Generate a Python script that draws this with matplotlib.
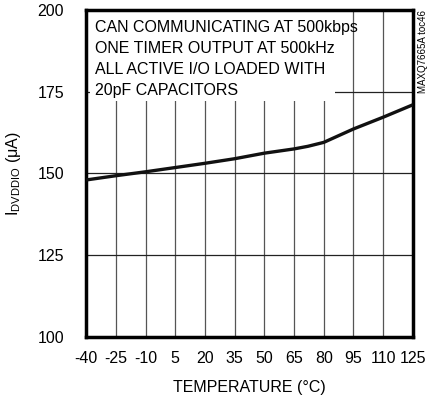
import matplotlib
matplotlib.use("Agg")
import matplotlib.pyplot as plt
from matplotlib.patches import Rectangle

plt.rcParams['font.family'] = ['Liberation Sans', 'DejaVu Sans']
plt.rcParams['mathtext.fontset'] = 'custom'
plt.rcParams['mathtext.rm'] = 'Liberation Sans'

# data
temp = [-40, -25, -10, 5, 20, 35, 50, 65, 72, 80, 95, 110, 125]
idvddio = [148.0, 149.3, 150.5, 151.8, 153.1, 154.5, 156.2, 157.5, 158.3, 159.5, 163.6, 167.2, 171.0]
xticks = [-40, -25, -10, 5, 20, 35, 50, 65, 80, 95, 110, 125]
xlabels = ['-40', '-25', '-10', '5', '20', '35', '50', '65', '80', '95', '110', '125']
yticks = [100, 125, 150, 175, 200]
note = ("CAN COMMUNICATING AT 500kbps\n"
        "ONE TIMER OUTPUT AT 500kHz\n"
        "ALL ACTIVE I/O LOADED WITH\n"
        "20pF CAPACITORS")

fig = plt.figure(figsize=(4.35, 4.01), dpi=100)
ax = fig.add_axes([0.198, 0.160, 0.751, 0.815])

for x in xticks[1:-1]:
    ax.axvline(x, color='#555555', lw=0.9, zorder=0.5)
for y in yticks[1:-1]:
    ax.axhline(y, color='#222222', lw=0.9, zorder=0.5)

# white box behind the note
ax.add_patch(Rectangle((-38, 172.2), 123.6, 30, facecolor='white', edgecolor='none', zorder=1))
ax.text(-35.5, 196.8, note, fontsize=11.5, va='top', ha='left', linespacing=1.48, zorder=2)

ax.plot(temp, idvddio, color='#111111', lw=2.4, zorder=3, solid_capstyle='butt')

ax.set_xlim(-40, 125)
ax.set_ylim(100, 200)
ax.set_xticks(xticks)
ax.set_xticklabels(xlabels)
ax.set_yticks(yticks)
ax.tick_params(length=0, labelsize=11.5)
ax.tick_params(axis='x', pad=10)
ax.tick_params(axis='y', pad=16)
for s in ax.spines.values():
    s.set_linewidth(2.5)

ax.set_xlabel('TEMPERATURE (°C)', fontsize=11.5, labelpad=10)
ax.set_ylabel(r'I$_{\mathrm{DVDDIO}}$ (μA)', fontsize=11.5, labelpad=10)

fig.text(0.973, 0.975, 'MAXQ7665A toc46', rotation=90, fontsize=7, ha='center', va='top')

plt.savefig('out.png', dpi=100)
